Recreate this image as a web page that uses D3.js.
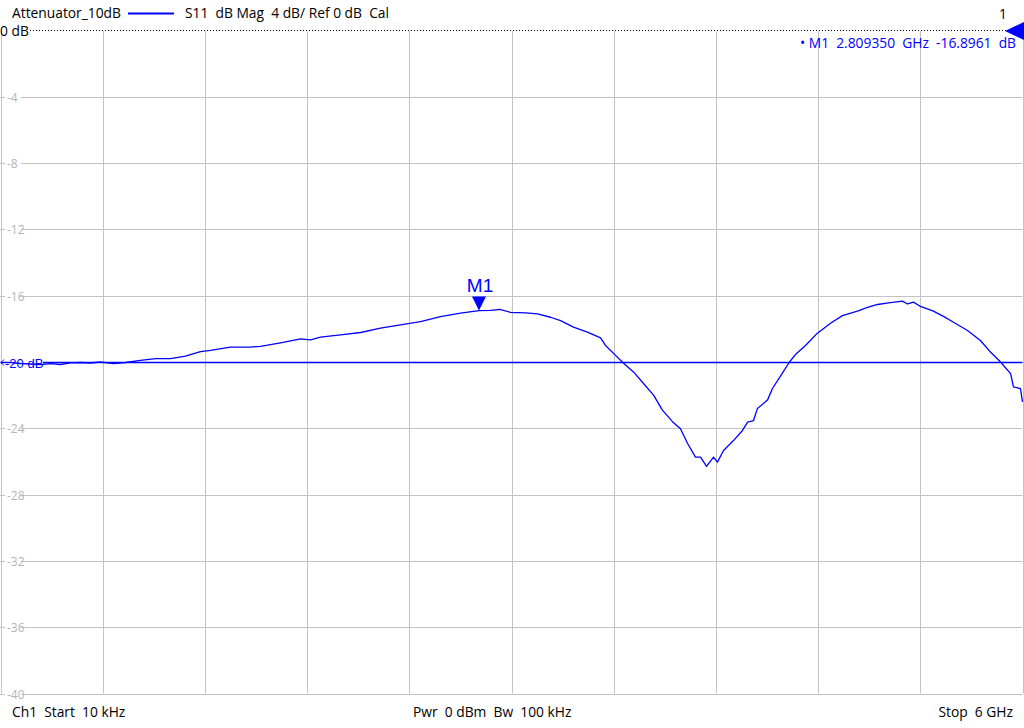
<!DOCTYPE html>
<html><head><meta charset="utf-8">
<script src="https://cdn.jsdelivr.net/npm/d3@7"></script>
<style>body{margin:0;background:#fff}svg{display:block}</style>
</head><body>
<script>
// ---- data ----
const freqGHz = [0.00001,0.059,0.117,0.176,0.235,0.294,0.352,0.411,0.470,0.528,0.587,0.663,0.734,0.822,0.910,0.998,1.086,1.174,1.233,1.350,1.468,1.526,1.644,1.761,1.820,1.879,1.996,2.114,2.231,2.348,2.466,2.583,2.701,2.809,2.877,2.930,2.994,3.082,3.153,3.229,3.288,3.364,3.446,3.523,3.552,3.611,3.658,3.716,3.775,3.834,3.886,3.945,3.992,4.033,4.080,4.110,4.145,4.186,4.209,4.245,4.303,4.356,4.386,4.421,4.444,4.503,4.532,4.579,4.632,4.667,4.726,4.796,4.873,4.943,5.031,5.090,5.149,5.213,5.295,5.325,5.360,5.401,5.477,5.536,5.595,5.677,5.753,5.812,5.871,5.930,5.947,5.988,6.000];
const s11dB = [-20.03,-20.03,-20.09,-20.12,-20.15,-20.10,-20.15,-20.05,-20.03,-20.06,-20.00,-20.10,-20.03,-19.90,-19.80,-19.80,-19.65,-19.37,-19.30,-19.10,-19.10,-19.06,-18.84,-18.60,-18.66,-18.50,-18.36,-18.22,-17.96,-17.76,-17.56,-17.26,-17.05,-16.896,-16.89,-16.83,-17.00,-17.04,-17.10,-17.30,-17.50,-17.90,-18.20,-18.55,-19.00,-19.60,-20.07,-20.60,-21.30,-22.00,-22.90,-23.60,-24.03,-24.90,-25.74,-25.74,-26.30,-25.74,-26.04,-25.34,-24.74,-24.13,-23.63,-23.53,-22.80,-22.30,-21.60,-20.85,-20.00,-19.55,-19.00,-18.26,-17.66,-17.20,-16.93,-16.70,-16.53,-16.43,-16.33,-16.50,-16.39,-16.65,-16.93,-17.25,-17.60,-18.10,-18.70,-19.40,-20.00,-20.70,-21.50,-21.60,-22.40];
const yTicks = [-4,-8,-12,-16,-20,-24,-28,-32,-36,-40];
const xGridGHz = [0,0.6,1.2,1.8,2.4,3.0,3.6,4.2,4.8,5.4,6.0];
const refLineDB = -20;
const marker = {name:"M1", freq:2.809350, value:-16.8961};
const headerLeft = "Attenuator_10dB";
const headerTrace = "S11  dB Mag  4 dB/ Ref 0 dB  Cal";
const footer = ["Ch1  Start  10 kHz", "Pwr  0 dBm  Bw  100 kHz", "Stop  6 GHz"];

// ---- drawing ----
const W = 1024, H = 728;
const FONT = "'Open Sans', 'Noto Sans', sans-serif";
const FS = 13.8;
const svg = d3.select("body").append("svg").attr("width", W).attr("height", H)
  .style("font-family", FONT);

const x = d3.scaleLinear().domain([0, 6]).range([0.5, 1022.5]);
const y = d3.scaleLinear().domain([0, -40]).range([30.5, 693.5]);
const BLUE = "#0000ff", GRID = "#c3c3c3";

// vertical grid
svg.append("g").selectAll("line").data(xGridGHz).join("line")
  .attr("x1", d => Math.round(x(d)) + 0.5).attr("x2", d => Math.round(x(d)) + 0.5)
  .attr("y1", 31).attr("y2", 693.5)
  .attr("stroke", GRID).attr("stroke-width", 1);

// horizontal grid with labels
const hg = svg.append("g");
hg.selectAll("line").data(yTicks.filter(d => d !== refLineDB)).join("line")
  .attr("x1", 0).attr("x2", 1022.5)
  .attr("y1", d => Math.round(y(d)) + 0.5).attr("y2", d => Math.round(y(d)) + 0.5)
  .attr("stroke", GRID);
const lab = hg.selectAll("g.lab").data(yTicks.filter(d => d !== refLineDB)).join("g")
  .attr("transform", d => `translate(0,${Math.round(y(d))})`);
lab.append("rect").attr("x", 5).attr("y", -7).attr("width", 16).attr("height", 14).attr("fill", "#fff");
lab.append("text").attr("x", 7).attr("y", 4.5).attr("font-size", 12).attr("fill", "#b4b4b4")
  .text(d => d);

// top reference (0 dB) dotted line
svg.append("line").attr("x1", 30).attr("x2", 1008).attr("y1", 30.5).attr("y2", 30.5)
  .attr("stroke", "#000").attr("stroke-dasharray", "1,2");
svg.append("text").attr("x", 0).attr("y", 36).attr("font-size", FS).attr("fill", "#000").text("0 dB");
svg.append("path").attr("d", "M1005,31 L1024,22 L1024,40 Z").attr("fill", BLUE);
svg.append("text").attr("x", 1007).attr("y", 19).attr("text-anchor", "end").attr("font-size", FS).attr("fill", "#000").text("1");

// -20 dB blue line
const ry = Math.round(y(refLineDB)) + 0.5;
svg.append("line").attr("x1", 43).attr("x2", 1022.5).attr("y1", ry).attr("y2", ry)
  .attr("stroke", BLUE).attr("stroke-width", 1.3);
svg.append("path").attr("d", `M1,${ry} L4,${ry-3} M1,${ry} L4,${ry+3}`).attr("stroke", BLUE).attr("fill", "none");
svg.append("text").attr("x", 5).attr("y", ry + 5).attr("font-size", 13).attr("fill", BLUE)
  .attr("font-family", "'Liberation Sans', Arial, sans-serif").text("-20 dB");

// trace
const line = d3.line().x((d, i) => x(freqGHz[i])).y(d => y(d)).curve(d3.curveLinear);
svg.append("path").datum(s11dB).attr("d", line).attr("fill", "none")
  .attr("stroke", BLUE).attr("stroke-width", 1.3).attr("stroke-linejoin", "round");

// marker
const mx = x(marker.freq), my = y(marker.value);
svg.append("path").attr("d", `M${mx - 7},${my - 14} L${mx + 7},${my - 14} L${mx},${my} Z`).attr("fill", BLUE);
svg.append("text").attr("x", mx + 1).attr("y", my - 19).attr("text-anchor", "middle")
  .attr("font-size", 19).attr("fill", BLUE).attr("font-family", "'Liberation Sans', Arial, sans-serif").text(marker.name);

// marker readout
svg.append("text").attr("x", 1016).attr("y", 48).attr("text-anchor", "end").attr("font-size", FS)
  .attr("fill", BLUE).style("white-space", "pre")
  .text(`• ${marker.name}  ${marker.freq.toFixed(6)}  GHz  ${marker.value.toFixed(4)}  dB`);

// header
svg.append("text").attr("x", 12).attr("y", 18).attr("font-size", FS).attr("fill", "#000").text(headerLeft);
svg.append("line").attr("x1", 128).attr("x2", 174).attr("y1", 13.5).attr("y2", 13.5).attr("stroke", BLUE).attr("stroke-width", 2);
svg.append("text").attr("x", 185).attr("y", 18).attr("font-size", FS).attr("fill", "#000")
  .style("white-space", "pre").text(headerTrace);

// footer
svg.append("text").attr("x", 12).attr("y", 717).attr("font-size", FS).style("white-space", "pre").text(footer[0]);
svg.append("text").attr("x", 413).attr("y", 717).attr("font-size", FS).style("white-space", "pre").text(footer[1]);
svg.append("text").attr("x", 1013).attr("y", 717).attr("text-anchor", "end").attr("font-size", FS).style("white-space", "pre").text(footer[2]);
</script>
</body></html>
